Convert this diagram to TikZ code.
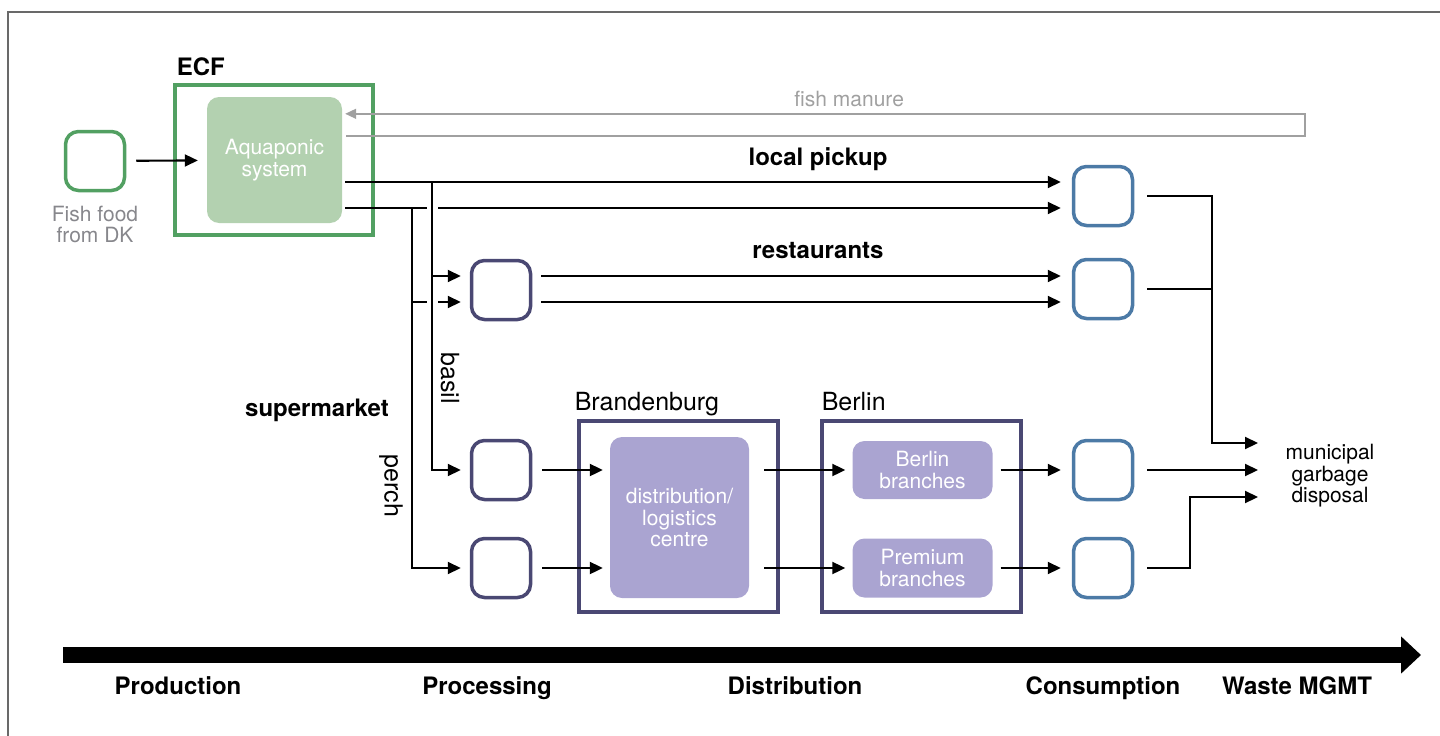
\documentclass[tikz,border=0pt]{standalone}
\usepackage{fontspec}
\setmainfont{TeX Gyre Heros}
\usepackage{xcolor}
\usepackage{tikz}
\usetikzlibrary{arrows.meta}
\usetikzlibrary{calc}
\usetikzlibrary{positioning}
\definecolor{ecfgreen}{RGB}{82,160,98}
\definecolor{aquagreen}{RGB}{179,209,176}
\definecolor{procpurple}{RGB}{74,72,115}
\definecolor{distpurple}{RGB}{170,164,209}
\definecolor{consblue}{RGB}{76,122,166}
\definecolor{manuregray}{RGB}{160,160,160}
\definecolor{framegray}{RGB}{105,105,105}
\definecolor{labelgray}{RGB}{135,135,140}
\tikzstyle{stage} = [draw, line width=3.5pt,
	rounded corners=13pt,
	minimum width=59pt,
	minimum height=59pt,
	inner sep=0pt]
\tikzstyle{region} = [draw, line width=3.5pt, inner sep=0pt]
\tikzstyle{unit} = [fill=distpurple, rounded corners=12pt, text=white, align=center, inner sep=0pt]
\tikzstyle{arrow} =[-{Triangle[length=13pt, width=12pt]}, line width=2.1pt, shorten >=9pt]
\tikzstyle{link} = [line width=2.1pt]
\newcommand{\bigbold}{\fontsize{24}{26}\selectfont\bfseries}
\newcommand{\midtext}{\fontsize{25}{27}\selectfont}
\newcommand{\smalltext}{\fontsize{21}{21.5}\selectfont}

\begin{document}
\begin{tikzpicture}[x=1pt, y=-1pt]
	\useasboundingbox (0,0) rectangle (1440,736);
	\draw [framegray, line width=1.5pt] (8,736) -- (8,12) -- (1440,12);
	
	% production
	\node (fish) [stage, draw=ecfgreen] at (95,161) {};
	\node (fishtxt) [below=10pt, text=labelgray, align=center, font=\smalltext] at (fish.south) {Fish food\\from DK};
	\node (ecf) [region, draw=ecfgreen, minimum width=198pt, minimum height=150pt] at (274,160) {};
	\node (ecflbl) [anchor=base west, font=\bigbold] at ($(ecf.north west)+(0,-8)$) {ECF};
	\node (aqua) [unit, fill=aquagreen, minimum width=135pt, minimum height=126pt, font=\smalltext] at (274.5,160) {Aquaponic\\system};
	\draw [arrow, shorten <=10pt] (fish) -- (aqua);
	
	\draw [manuregray, line width=1.5pt, -{Triangle[length=11pt, width=10pt]}] ($(aqua.north east)+(4,39)$) -- ++(959,0) -- ++(0,-22) -- ($(aqua.north east)+(3,17)$) node (manure) [pos=0.475, above=3pt, font=\smalltext] {fish manure};
	
	% consumption
	\node (c1) [stage, draw=consblue] at (1103,196) {};
	\node (c2) [stage, draw=consblue] at (1103,289) {};
	\node (c3) [stage, draw=consblue] at (1103,470) {};
	\node (c4) [stage, draw=consblue] at (1103,568) {};
	
	% processing
	\node (p1) [stage, draw=procpurple] at (501,290) {};
	\node (p3) [stage, draw=procpurple] at (501,470) {};
	\node (p4) [stage, draw=procpurple] at (501,568) {};
	
	\coordinate (o1) at ($(aqua.east)+(3,22)$);
	\coordinate (o2) at ($(aqua.east)+(3,48)$);
	\coordinate (basil) at ($(o1)+(87,0)$);
	\coordinate (perch) at ($(o2)+(67,0)$);
	\coordinate (r1) at ($(p1.west)+(0,-14)$);
	\coordinate (r2) at ($(p1.west)+(0,12)$);
	
	\node (pickup) [font=\bigbold] at (818,159) {local pickup};
	\node (rest) [font=\bigbold] at (818,251) {restaurants};
	\node (super) [font=\bigbold] at (317,410) {supermarket};
	
	\draw [arrow, shorten >=11pt] (o1) -- (o1 -| c1.west);
	\draw [link] (o2) -- ($(basil |- o2)+(-5,0)$);
	\draw [arrow, shorten >=11pt] ($(basil |- o2)+(6,0)$) -- (o2 -| c1.west);
	
	\draw [arrow] (basil) |- (p3.west);
	\draw [arrow] (basil |- r1) -- (r1);
	\draw [arrow] (perch) |- (p4.west);
	\draw [link] (perch |- r2) -- ($(basil |- r2)+(-5,0)$);
	\draw [arrow] ($(basil |- r2)+(6,0)$) -- (r2);
	\node (basiltxt) [rotate=-90, font=\midtext] at (450,378) {basil};
	\node (perchtxt) [rotate=-90, font=\midtext] at (391,486) {perch};
	
	\draw [arrow, shorten <=9pt, shorten >=11pt] (r1 -| p1.east) -- (r1 -| c2.west);
	\draw [arrow, shorten <=9pt, shorten >=11pt] (r2 -| p1.east) -- (r2 -| c2.west);
	
	% distribution
	\node (brb) [region, draw=procpurple, minimum width=199pt, minimum height=191pt] at (678.5,516.5) {};
	\node (brblbl) [anchor=base west, font=\midtext] at ($(brb.north west)+(-6,-9)$) {Brandenburg};
	\node (logi) [unit, minimum width=139pt, minimum height=161pt, font=\smalltext] at (679.5,517.5) {distribution/\\logistics\\centre};
	\node (ber) [region, draw=procpurple, minimum width=199pt, minimum height=191pt] at (921.5,516.5) {};
	\node (berlbl) [anchor=base west, font=\midtext] at ($(ber.north west)+(-2,-9)$) {Berlin};
	\node (bb) [unit, minimum width=140pt, minimum height=58pt, font=\smalltext] at (922.5,470) {Berlin\\branches};
	\node (pb) [unit, minimum width=140pt, minimum height=59pt, font=\smalltext] at (922.5,568) {Premium\\branches};
	
	\draw [arrow, shorten <=10pt, shorten >=7pt] (p3) -- (p3 -| logi.west);
	\draw [arrow, shorten <=10pt, shorten >=7pt] (p4) -- (p4 -| logi.west);
	\draw [arrow, shorten <=15pt, shorten >=7pt] (logi.east |- bb) -- (bb);
	\draw [arrow, shorten <=15pt, shorten >=7pt] (logi.east |- pb) -- (pb);
	\draw [arrow, shorten <=8pt, shorten >=11pt] (bb) -- (c3);
	\draw [arrow, shorten <=8pt, shorten >=11pt] (pb) -- (c4);
	
	% waste
	\node (waste) [align=center, font=\smalltext] at (1330,476) {municipal\\garbage\\disposal};
	\coordinate (w1) at (1258,443);
	\coordinate (w2) at (1258,470);
	\coordinate (w3) at (1258,497);
	\coordinate (wj) at ($(w1)+(-46,0)$);
	\coordinate (wk) at ($(w3)+(-68,0)$);
	\draw [arrow, shorten <=13pt, shorten >=0pt] (c1) -| (wj) -- (w1);
	\draw [link, shorten <=13pt] (c2) -- (c2 -| wj);
	\draw [arrow, shorten <=13pt, shorten >=0pt] (c3) -- (w2);
	\draw [arrow, shorten <=13pt, shorten >=0pt] (c4) -| (wk) -- (w3);
	
	% timeline
	\coordinate (t0) at (63,655);
	\coordinate (t1) at (1421,655);
	\draw [line width=16pt, -{Triangle[length=20pt, width=36pt]}] (t0) -- (t1);
	\node (prod) [anchor=base, font=\bigbold] at (178,694) {Production};
	\node (proc) [anchor=base, font=\bigbold] at (487,694) {Processing};
	\node (dist) [anchor=base, font=\bigbold] at (795,694) {Distribution};
	\node (cons) [anchor=base, font=\bigbold] at (1103,694) {Consumption};
	\node (wmgmt) [anchor=base, font=\bigbold] at (1297,694) {Waste MGMT};
\end{tikzpicture}
\end{document}
